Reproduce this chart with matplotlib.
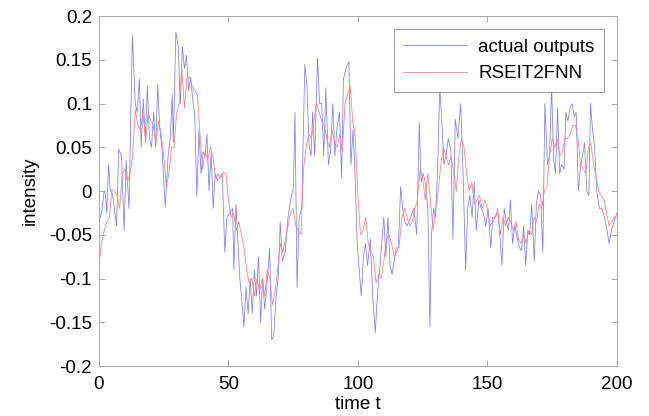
import matplotlib
matplotlib.use("Agg")
import matplotlib.pyplot as plt

plt.rcParams['font.family'] = ['Liberation Sans', 'DejaVu Sans']

actual_t = [0, 1, 2, 2.5, 3, 3.7, 4.4, 5.2, 6.8, 7.6, 8.7, 9.7, 10.5, 11.6, 12.9, 14, 14.8,
            15.6, 16.3, 17.1, 17.9, 18.7, 19.5, 20.3, 21.1, 21.9, 22.7, 23.5, 24.3, 25.6,
            26.7, 27.5, 28.3, 28.7, 29.7, 30.6, 31.4, 32.2, 33, 33.8, 34.6, 35.4, 36.2, 37,
            37.8, 38.6, 39.4, 40.2, 41, 41.7, 42.5, 43.3, 44.1, 44.9, 45.7, 46.5, 47.6, 48.6,
            49.4, 50.5, 51.6, 52.1, 52.9, 53.7, 54.4, 56, 56.8, 57.6, 58.4, 59.2, 60, 60.8,
            61.6, 62.4, 63.2, 64, 64.8, 65.9, 66.7, 67.5, 68.4, 69.2, 70, 70.8, 71.9, 73, 74,
            75.1, 75.7, 76.5, 77.3, 78.3, 79.5, 80.3, 81.1, 81.9, 82.5, 83.3, 84.4, 85.2, 86,
            86.8, 87.6, 88.6, 89.4, 90.3, 91.1, 91.9, 92.9, 93.7, 94.4, 95.4, 96.5, 97.3, 98.1,
            98.9, 99.7, 100.5, 101.3, 102.1, 102.9, 103.7, 104.8, 105.7, 106.7, 107.5, 108.4,
            109.2, 110, 110.8, 111.6, 112.4, 113.2, 114, 114.8, 115.6, 116.5, 117.3, 118.1,
            119, 120.3, 121.6, 122.7, 123.7, 124.4, 125.2, 126, 127, 127.8, 128.4, 129.2, 130,
            130.8, 131.6, 132.4, 133.2, 134, 134.9, 135.9, 136.7, 137.6, 138.6, 139.7, 140.6,
            141.6, 142.4, 143.2, 144.1, 144.9, 145.7, 146.7, 147.6, 148.4, 149.4, 150.3, 151.3,
            152.1, 152.9, 154, 154.8, 155.6, 156.5, 157.3, 158.1, 158.9, 159.7, 160.6, 161.6,
            162.4, 163.2, 164, 164.8, 165.6, 166.3, 167.1, 168.1, 168.9, 169.7, 170.6, 171.4,
            172.2, 173.2, 174, 174.8, 175.6, 176.3, 177.1, 177.9, 178.7, 179.6, 180.3, 181.1,
            181.9, 182.7, 183.5, 184.3, 185.1, 185.9, 186.7, 187.5, 188.4, 189.2, 189.8, 190.6,
            191.4, 192.2, 193.3, 194.3, 195.2, 196.2, 197, 197.9, 198.9, 200]
actual = [-0.035, -0.025, 0.0, -0.003, -0.025, 0.03, 0.0, -0.003, -0.04, 0.048, 0.04, -0.045,
          0.035, -0.02, 0.178, 0.1, 0.09, 0.128, 0.05, 0.105, 0.06, 0.12, 0.06, 0.05, 0.09,
          0.05, 0.122, 0.07, 0.05, -0.018, 0.04, 0.06, 0.11, 0.055, 0.182, 0.165, 0.1, 0.165,
          0.14, 0.155, 0.115, 0.13, 0.105, 0.085, -0.006, 0.07, 0.02, 0.045, 0.04, 0.065, 0.0,
          0.045, -0.02, 0.02, 0.012, 0.015, 0.02, -0.07, -0.03, -0.025, -0.02, -0.09, -0.015,
          -0.06, -0.1, -0.155, -0.11, -0.14, -0.1, -0.14, -0.09, -0.12, -0.075, -0.15, -0.1,
          -0.135, -0.11, -0.065, -0.17, -0.165, -0.12, -0.1, -0.035, -0.08, -0.07, -0.03,
          -0.01, 0.005, 0.09, -0.11, -0.03, -0.02, 0.145, 0.12, 0.055, 0.04, 0.09, 0.04, 0.152,
          0.1, 0.1, 0.04, 0.118, 0.03, 0.045, 0.1, 0.04, 0.072, 0.09, 0.015, 0.128, 0.14,
          0.148, 0.03, 0.07, 0.02, -0.06, -0.09, -0.12, -0.075, -0.06, -0.085, -0.055, -0.12,
          -0.162, -0.12, -0.09, -0.06, -0.03, -0.075, -0.03, -0.085, -0.095, -0.08, -0.065,
          -0.065, 0.005, -0.02, -0.035, -0.04, -0.03, -0.02, -0.05, 0.078, 0.01, 0.02, 0.01,
          -0.02, -0.155, -0.05, -0.02, -0.03, 0.03, 0.118, 0.08, 0.03, 0.04, 0.06, 0.045,
          -0.055, 0.082, 0.06, 0.1, 0.02, -0.09, -0.02, -0.005, -0.03, 0.01, -0.045, -0.01,
          -0.02, -0.025, -0.04, -0.02, -0.065, -0.03, -0.03, -0.025, -0.05, -0.085, -0.02,
          -0.035, -0.045, -0.01, -0.06, -0.04, -0.055, -0.065, -0.068, -0.04, -0.085, -0.045,
          -0.05, -0.015, -0.08, -0.015, 0.0, -0.005, -0.07, 0.1, 0.03, 0.04, 0.12, 0.035, 0.02,
          0.095, 0.02, 0.03, 0.025, 0.09, 0.08, 0.095, 0.1, 0.085, 0.09, 0.0, 0.025, 0.04,
          0.055, 0.0, -0.005, 0.1, 0.07, 0.05, 0.0, -0.02, -0.02, -0.03, -0.045, -0.06,
          -0.045, -0.035, -0.025]

# salida del modelo RSEIT2FNN, t = 0..200
rseit2fnn = [-0.085, -0.06, -0.045, -0.035, -0.03, 0.002, 0.0, -0.005, -0.02, 0.02, 0.025,
             0.01, 0.02, 0.04, 0.093, 0.075, 0.07, 0.09, 0.055, 0.09, 0.08, 0.075, 0.055,
             0.08, 0.065, 0.04, 0.005, 0.02, 0.05, 0.05, 0.09, 0.1, 0.14, 0.095, 0.13, 0.13,
             0.12, 0.115, 0.11, 0.065, 0.025, 0.045, 0.035, 0.05, 0.04, 0.015, 0.02, 0.015,
             0.022, 0.02, -0.01, -0.03, -0.025, -0.045, -0.035, -0.05, -0.065, -0.09, -0.105,
             -0.1, -0.12, -0.1, -0.115, -0.1, -0.12, -0.09, -0.1, -0.13, -0.115, -0.09, -0.06,
             -0.07, -0.055, -0.04, -0.025, -0.02, -0.04, -0.045, -0.05, 0.025, 0.05, 0.065,
             0.06, 0.08, 0.1, 0.09, 0.08, 0.075, 0.06, 0.05, 0.07, 0.055, 0.05, 0.065, 0.045,
             0.1, 0.11, 0.12, 0.08, 0.06, -0.005, -0.05, -0.045, -0.03, -0.06, -0.07, -0.075,
             -0.105, -0.095, -0.1, -0.08, -0.055, -0.05, -0.06, -0.075, -0.07, -0.06, -0.03,
             -0.02, -0.03, -0.04, -0.035, -0.02, -0.01, 0.025, 0.015, -0.01, 0.02, -0.01,
             -0.045, -0.02, 0.0, 0.03, 0.05, 0.04, 0.03, 0.04, 0.02, 0.0, 0.04, 0.06, 0.05,
             0.02, 0.0, 0.01, -0.015, -0.01, -0.005, -0.02, -0.01, -0.02, -0.04, -0.035, -0.03,
             -0.02, -0.05, -0.03, -0.04, -0.03, -0.035, -0.045, -0.035, -0.055, -0.06, -0.05,
             -0.06, -0.045, -0.05, -0.03, -0.035, -0.015, -0.02, 0.0, 0.005, 0.04, 0.06, 0.05,
             0.06, 0.04, 0.045, 0.06, 0.06, 0.065, 0.075, 0.075, 0.06, 0.03, 0.025, 0.02, 0.05,
             0.055, 0.03, 0.015, 0.0, -0.005, -0.01, -0.025, -0.04, -0.035, -0.03, -0.03]
rseit2fnn_t = list(range(len(rseit2fnn)))

fig = plt.figure(figsize=(6.49, 4.16), dpi=100)
ax = fig.add_axes([0.1525, 0.12, 0.798, 0.8415])

ax.plot(actual_t, actual, color='#7d7dff', lw=0.55, label='actual outputs')
ax.plot(rseit2fnn_t, rseit2fnn, color='#ff8080', lw=0.55, label='RSEIT2FNN')

ax.set_xlim(0, 200)
ax.set_ylim(-0.2, 0.2)
ax.set_xticks([0, 50, 100, 150, 200])
ax.set_yticks([-0.2, -0.15, -0.1, -0.05, 0, 0.05, 0.1, 0.15, 0.2])
ax.set_yticklabels(['-0.2', '-0.15', '-0.1', '-0.05', '0', '0.05', '0.1', '0.15', '0.2'])
ax.tick_params(direction='in', top=True, right=True, labelsize=13.5, length=4.5,
               color='#999999', width=0.6)
ax.tick_params(axis='x', pad=7)
ax.tick_params(axis='y', pad=5)
for s in ax.spines.values():
    s.set_color('#aaaaaa')
    s.set_linewidth(0.7)

ax.set_xlabel('time t', fontsize=13.5, labelpad=2)
ax.set_ylabel('intensity', fontsize=13.5, labelpad=7)

leg = ax.legend(loc='upper right', fontsize=13.5, fancybox=False, handlelength=3.4,
                handletextpad=0.6, borderaxespad=0.7, borderpad=0.5, labelspacing=0.5,
                framealpha=1)
leg.get_frame().set_edgecolor('#999999')
leg.get_frame().set_linewidth(0.7)

plt.savefig('out.png', dpi=100)
